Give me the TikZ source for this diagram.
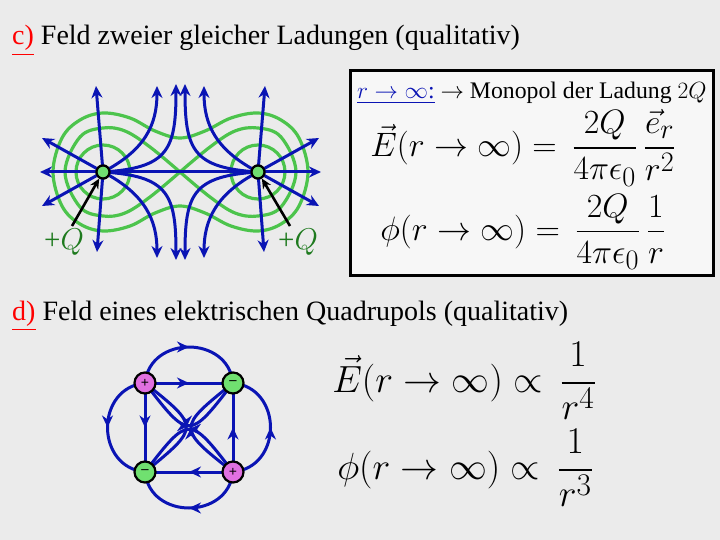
\documentclass[tikz,border=0pt]{standalone}
\usepackage{fontspec}
\setmainfont{Liberation Serif}
\usepackage{amsmath}
\usetikzlibrary{arrows.meta,decorations.markings}
\definecolor{bg}{HTML}{EBEBEB}
\definecolor{fblue}{HTML}{0A14B4}
\definecolor{fgreen}{HTML}{4CC44C}
\definecolor{qgreen}{HTML}{1E7A1E}
\definecolor{ppink}{HTML}{E070E0}
\definecolor{mgreen}{HTML}{70E070}
\tikzset{
 fl/.style={draw=fblue,line width=3pt,-{Stealth[length=12pt,width=11pt]}},
 ql/.style={draw=fblue,line width=3pt},
 ep/.style={draw=fgreen,line width=3.2pt},
 mid/.style={postaction={decorate},decoration={markings,mark=at position 0.5 with {\arrow{Stealth[length=12pt,width=11pt]}}}},
 charge/.style={circle,draw=black,line width=2.2pt,fill=#1,minimum size=21pt,inner sep=0pt},
 title/.style={anchor=base west,font=\fontsize{28}{32}\selectfont,inner sep=0pt},
 eq/.style={font=\fontsize{29}{34}\selectfont,inner sep=0pt,transform shape}
}
\begin{document}
\begin{tikzpicture}[x=1pt,y=-1pt]
\fill[bg] (0,0) rectangle (720,540);
\useasboundingbox (0,0) rectangle (720,540);
% titles
\node[title] (tc) at (12,45) {\textcolor{red}{\underline{c)}} Feld zweier gleicher Ladungen (qualitativ)};
\node[title] (td) at (12,320) {\textcolor{red}{\underline{d)}} Feld eines elektrischen Quadrupols (qualitativ)};
% equipotentials
\draw[ep] plot[smooth cycle,tension=0.6] coordinates {(53,172)(62,138)(80,120)(103,113)(130,118)(155,131)(180,138)(205,131)(231,118)(258,113)(281,120)(299,138)(308,172)(299,206)(281,224)(258,231)(231,226)(205,213)(180,206)(155,213)(130,226)(103,231)(80,224)(62,206)};
\draw[ep] plot[smooth,tension=0.6] coordinates {(180,172)(150,147)(125,131)(103,128)(80,137)(65,172)(80,207)(103,216)(125,213)(150,197)(180,172)};
\draw[ep] plot[smooth,tension=0.6] coordinates {(180,172)(210,147)(235,131)(258,128)(281,137)(296,172)(281,207)(258,216)(235,213)(210,197)(180,172)};
\draw[ep] (103,172) circle[radius=27];
\draw[ep] (258,172) circle[radius=27];
% charges
\node[charge=mgreen,minimum size=13pt] (L) at (103,172) {};
\node[charge=mgreen,minimum size=13pt] (R) at (258,172) {};
\coordinate (c1) at (40,172);\coordinate (c2) at (42,138);\coordinate (c3) at (42,206);
\coordinate (c4) at (96,86);\coordinate (c5) at (97,252);
\coordinate (c6) at (157,86);\coordinate (c7) at (157,258);
\coordinate (c8) at (176,84);\coordinate (c9) at (176,260);
\coordinate (d1) at (321,172);\coordinate (d2) at (319,138);\coordinate (d3) at (319,206);
\coordinate (d4) at (265,86);\coordinate (d5) at (264,252);
\coordinate (d6) at (204,86);\coordinate (d7) at (204,258);
\coordinate (d8) at (185,84);\coordinate (d9) at (185,260);
\draw[ql] (L) -- (R);
\foreach \t in {c1,c2,c3,c4,c5} \draw[fl] (L.center) -- (\t);
\foreach \t in {d1,d2,d3,d4,d5} \draw[fl] (R.center) -- (\t);
\draw[fl] (L.center) .. controls (145,150) and (157,125) .. (c6);
\draw[fl] (L.center) .. controls (145,194) and (157,220) .. (c7);
\draw[fl] (L.center) .. controls (168,168) and (176,150) .. (c8);
\draw[fl] (L.center) .. controls (168,176) and (176,194) .. (c9);
\draw[fl] (R.center) .. controls (216,150) and (204,125) .. (d6);
\draw[fl] (R.center) .. controls (216,194) and (204,220) .. (d7);
\draw[fl] (R.center) .. controls (193,168) and (185,150) .. (d8);
\draw[fl] (R.center) .. controls (193,176) and (185,194) .. (d9);
\node[charge=mgreen,minimum size=13pt] at (103,172) {};
\node[charge=mgreen,minimum size=13pt] at (258,172) {};
% labels
\node[text=qgreen,font=\fontsize{20}{24}\selectfont,inner sep=0pt,scale=1.45] (qL) at (64,242) {+$Q$};
\node[text=qgreen,font=\fontsize{20}{24}\selectfont,inner sep=0pt,scale=1.45] (qR) at (298,242) {+$Q$};
\coordinate (aL) at (72,226);\coordinate (aR) at (290,226);
\draw[line width=2.6pt,-{Stealth[length=10pt,width=9pt]}] (aL) -- (L);
\draw[line width=2.6pt,-{Stealth[length=10pt,width=9pt]}] (aR) -- (R);
% box
\draw[line width=3pt,fill=white!60!bg] (350,71) rectangle (713,275);
\node[anchor=base west,font=\fontsize{21}{25}\selectfont,inner sep=0pt,scale=1.13,transform shape] (hd) at (357,99) {\textcolor{fblue}{\underline{$r\rightarrow\infty$:}} $\rightarrow$ Monopol der Ladung $2Q$};
\node[eq,anchor=west,scale=1.36] (e1) at (370,148) {$\displaystyle \vec{E}(r\rightarrow\infty)=\,\frac{2Q}{4\pi\epsilon_0}\,\frac{\vec{e}_r}{r^2}$};
\node[eq,anchor=west,scale=1.36] (e2) at (380,232) {$\displaystyle \phi(r\rightarrow\infty)=\,\frac{2Q}{4\pi\epsilon_0}\,\frac{1}{r}$};
% quadrupole
\coordinate (TL) at (145,383);\coordinate (TR) at (233,383);
\coordinate (BL) at (145,472);\coordinate (BR) at (233,472);
\draw[ql,mid] (TL) .. controls (150,335) and (228,335) .. (TR);
\draw[ql,mid] (TL) -- (TR);
\draw[ql,mid] (TL) .. controls (95,388) and (95,467) .. (BL);
\draw[ql,mid] (TL) -- (BL);
\draw[ql,mid] (BR) -- (TR);
\draw[ql,mid] (BR) .. controls (283,467) and (283,388) .. (TR);
\draw[ql,mid] (BR) -- (BL);
\draw[ql,mid] (BR) .. controls (228,520) and (150,520) .. (BL);
\draw[ql,mid] (TL) .. controls (189,440) and (189,440) .. (TR);
\draw[ql,mid] (TL) .. controls (200,427) and (200,427) .. (BL);
\draw[ql,mid] (BR) .. controls (177,428) and (177,428) .. (TR);
\draw[ql,mid] (BR) .. controls (189,415) and (189,415) .. (BL);
\node[charge=ppink] (q1) at (TL) {\Large\textbf{+}};
\node[charge=mgreen] (q2) at (TR) {\Large\textbf{--}};
\node[charge=mgreen] (q3) at (BL) {\Large\textbf{--}};
\node[charge=ppink] (q4) at (BR) {\Large\textbf{+}};
\node[eq,anchor=west,scale=1.52] (e3) at (332,381) {$\displaystyle \vec{E}(r\rightarrow\infty)\propto\,\frac{1}{r^4}$};
\node[eq,anchor=west,scale=1.52] (e4) at (337,468) {$\displaystyle \phi(r\rightarrow\infty)\propto\,\frac{1}{r^3}$};
\end{tikzpicture}
\end{document}
